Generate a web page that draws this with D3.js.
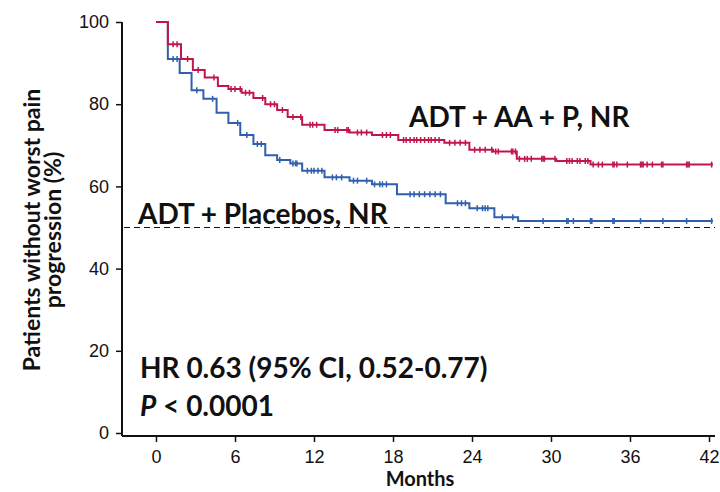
<!DOCTYPE html>
<html>
<head>
<meta charset="utf-8">
<script src="https://cdn.jsdelivr.net/npm/d3@7"></script>
<style>
    body { margin: 0; background: #fff; }
    svg { display: block; font-family: Lato, sans-serif; }
</style>
</head>
<body>
<div class="km__container"></div>
<script>
// axis ticks
const monthTicks = [0, 6, 12, 18, 24, 30, 36, 42];
const pctTicks = [0, 20, 40, 60, 80, 100];
const followUpEnd = 42.3;

// ADT + AA + P : step times (months) and % after each step
const aaTimes = [0, 0.9, 1.9, 2.8, 3.7, 4.7, 5.5, 6.5, 7.4, 8.3, 9.2, 10.0, 11.1, 12.8, 14.7, 16.4, 18.4, 21.9, 23.8, 25.6, 27.4, 30.4, 33.0];
const aaSurv  = [100, 94.6, 91.0, 88.3, 86.5, 84.4, 83.7, 82.8, 81.5, 80.0, 78.6, 76.9, 75.0, 73.7, 73.1, 72.5, 71.3, 70.6, 68.9, 68.5, 66.7, 66.2, 65.3];
const aaCensor = [1.3, 1.6, 2.4, 3.2, 4.4, 5.7, 6.0, 6.4, 6.8, 7.1, 8.1, 8.7, 9.0, 9.6, 10.4, 11.0, 11.7, 11.9, 12.2,
    13.6, 13.8, 14.5, 14.6, 15.3, 15.6, 16.0, 17.2, 17.5, 17.8, 18.8, 19.0, 19.3, 19.6, 19.8, 20.1, 20.4, 20.7, 20.9,
    21.2, 21.5, 22.3, 22.7, 23.1, 23.5, 24.2, 24.6, 25.0, 25.5, 25.8, 26.0, 27.0, 27.1, 27.3, 27.6, 28.0, 28.2, 28.5,
    29.3, 29.4, 29.5, 30.3, 31.2, 31.4, 31.6, 32.0, 32.2, 32.6, 32.8, 33.2, 33.6, 33.9, 34.7, 34.8, 35.0, 35.8, 36.8,
    36.9, 37.0, 37.3, 37.7, 38.4, 38.5, 40.3, 40.4, 40.5, 42.2];

// ADT + placebos
const pboTimes = [0, 0.9, 1.8, 2.7, 3.6, 4.6, 5.5, 6.4, 7.4, 8.3, 9.2, 10.2, 11.1, 12.8, 14.7, 16.4, 18.3, 22.0, 23.8, 25.7, 27.5];
const pboSurv  = [100, 91.0, 87.6, 83.4, 81.3, 77.9, 75.4, 72.5, 70.3, 67.6, 66.4, 65.6, 63.8, 62.2, 61.4, 60.5, 58.1, 55.9, 54.7, 52.5, 51.6];
const pboCensor = [1.3, 1.6, 3.1, 4.3, 6.2, 6.9, 7.7, 8.0, 9.4, 10.4, 10.6, 10.7, 11.5, 11.8, 12.0, 12.3, 12.6, 13.4,
    13.7, 14.1, 15.0, 15.3, 16.0, 16.6, 17.0, 17.2, 17.5, 19.3, 19.6, 20.0, 20.4, 20.8, 21.2, 21.6, 22.9, 23.2, 23.5,
    24.4, 24.8, 25.0, 25.2, 26.3, 27.1, 29.4, 31.2, 31.3, 31.7, 33.0, 33.1, 34.7, 34.8, 36.8, 38.5, 40.3, 42.2];

const medianLine = 50;

const RED = '#c2164b';
const BLUE = '#2f5fad';

function drawChart() {
    const width = 720, height = 492;
    const left = 122, top = 22, zeroY = 433, axisY = 436, right = 715;

    const svg = d3.select('.km__container')
        .append('svg')
        .attr('width', width)
        .attr('height', height);

    const x = d3.scaleLinear().domain([0, 42]).range([156, 709]);
    const y = d3.scaleLinear().domain([0, 100]).range([zeroY, top]);

    // axes
    const yAxis = svg.append('g')
        .attr('transform', 'translate(' + left + ',0)')
        .call(d3.axisLeft(y).tickValues(pctTicks).tickSize(6).tickPadding(7));
    yAxis.select('.domain').remove();
    yAxis.selectAll('text').style('font-size', '18px').attr('fill', '#111');

    const xAxis = svg.append('g')
        .attr('transform', 'translate(0,' + axisY + ')')
        .call(d3.axisBottom(x).tickValues(monthTicks).tickSize(6).tickPadding(8));
    xAxis.select('.domain').remove();
    xAxis.selectAll('text').style('font-size', '18px').attr('fill', '#111');

    svg.selectAll('.tick line').attr('stroke', '#111').attr('stroke-width', 1.5);

    svg.append('line')
        .attr('x1', left).attr('x2', left)
        .attr('y1', top).attr('y2', axisY)
        .attr('stroke', '#111').attr('stroke-width', 2);
    svg.append('line')
        .attr('x1', left).attr('x2', right)
        .attr('y1', axisY).attr('y2', axisY)
        .attr('stroke', '#111').attr('stroke-width', 2);

    // median reference
    svg.append('line')
        .attr('x1', left + 2).attr('x2', right)
        .attr('y1', y(medianLine)).attr('y2', y(medianLine))
        .attr('stroke', '#111')
        .attr('stroke-width', 1.2)
        .attr('stroke-dasharray', '6 4');

    // curves
    const line = d3.line()
        .x(d => x(d[0]))
        .y(d => y(d[1]))
        .curve(d3.curveStepAfter);

    function drawArm(times, surv, censor, color) {
        const pts = times.map((t, i) => [t, surv[i]]);
        pts.push([followUpEnd, surv[surv.length - 1]]);

        svg.append('path')
            .datum(pts)
            .attr('d', line)
            .attr('fill', 'none')
            .attr('stroke', color)
            .attr('stroke-width', 2);

        svg.append('g')
            .selectAll('line')
            .data(censor)
            .enter()
            .append('line')
            .attr('x1', d => x(d))
            .attr('x2', d => x(d))
            .attr('y1', d => y(surv[d3.bisectRight(times, d) - 1]) - 3)
            .attr('y2', d => y(surv[d3.bisectRight(times, d) - 1]) + 3)
            .attr('stroke', color)
            .attr('stroke-width', 1.5);
    }

    drawArm(pboTimes, pboSurv, pboCensor, BLUE);
    drawArm(aaTimes, aaSurv, aaCensor, RED);

    // annotations
    function label(tx, ty, str) {
        return svg.append('text')
            .attr('x', tx).attr('y', ty)
            .style('font-size', '28px')
            .style('font-weight', 'bold')
            .attr('fill', '#111')
            .text(str);
    }
    label(409, 127, 'ADT + AA + P, NR');
    label(138, 224, 'ADT + Placebos, NR');
    label(140, 378, 'HR 0.63 (95% CI, 0.52-0.77)');

    const p = svg.append('text')
        .attr('x', 140).attr('y', 416)
        .style('font-size', '28px')
        .style('font-weight', 'bold')
        .attr('fill', '#111');
    p.append('tspan').style('font-style', 'italic').text('P');
    p.append('tspan').text(' < 0.0001');

    // axis titles
    svg.append('text')
        .attr('x', 420)
        .attr('y', 486)
        .attr('text-anchor', 'middle')
        .style('font-size', '20px')
        .style('font-weight', 'bold')
        .attr('fill', '#111')
        .text('Months');

    const yt = svg.append('g')
        .attr('transform', 'translate(40,230) rotate(-90)');
    yt.append('text')
        .attr('text-anchor', 'middle')
        .style('font-size', '23px')
        .style('font-weight', 'bold')
        .attr('fill', '#111')
        .text('Patients without worst pain');
    yt.append('text')
        .attr('y', 21)
        .attr('text-anchor', 'middle')
        .style('font-size', '23px')
        .style('font-weight', 'bold')
        .attr('fill', '#111')
        .text('progression (%)');
}

drawChart();
</script>
</body>
</html>
